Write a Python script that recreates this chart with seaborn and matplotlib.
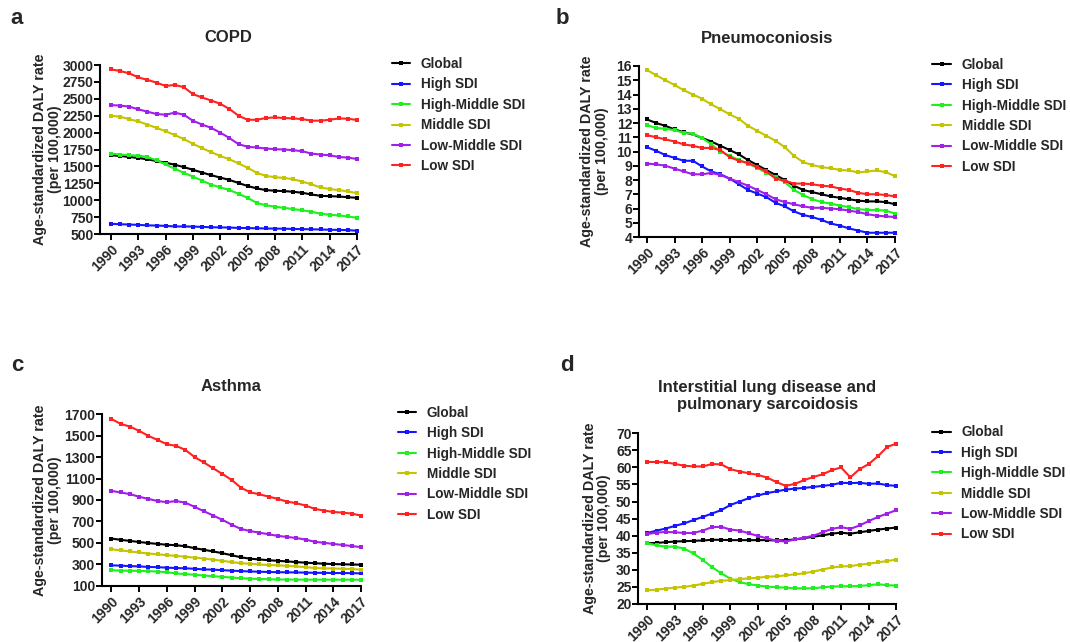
import numpy as np
import pandas as pd
import seaborn as sns
import matplotlib
matplotlib.use("Agg")
import matplotlib.pyplot as plt

years = list(range(1990, 2018))
groups = ["Global", "High SDI", "High-Middle SDI", "Middle SDI", "Low-Middle SDI", "Low SDI"]
colors = ["#000000", "#1515ff", "#1ef01e", "#c4c400", "#a020e8", "#ff2222"]

# COPD
copd_global = [1665, 1655, 1640, 1625, 1605, 1580, 1555, 1525, 1490, 1450, 1410, 1370, 1335, 1300,
               1255, 1210, 1175, 1150, 1140, 1135, 1125, 1110, 1085, 1065, 1060, 1055, 1045, 1035]
copd_high = [650, 645, 640, 635, 628, 625, 620, 612, 612, 610, 605, 600, 598, 595,
             590, 588, 585, 582, 580, 578, 575, 572, 570, 567, 563, 560, 558, 548]
copd_highmid = [1690, 1675, 1665, 1660, 1640, 1590, 1530, 1465, 1405, 1350, 1290, 1230, 1190, 1150,
                1095, 1035, 960, 925, 905, 885, 870, 850, 830, 800, 785, 775, 760, 740]
copd_mid = [2250, 2235, 2200, 2165, 2120, 2070, 2020, 1965, 1905, 1835, 1770, 1710, 1655, 1605,
            1545, 1480, 1405, 1360, 1340, 1330, 1310, 1275, 1235, 1190, 1165, 1150, 1130, 1105]
copd_lowmid = [2407, 2400, 2385, 2345, 2310, 2275, 2265, 2295, 2265, 2175, 2120, 2070, 2000, 1920,
               1830, 1790, 1780, 1765, 1755, 1750, 1740, 1725, 1690, 1675, 1665, 1640, 1630, 1610]
copd_low = [2936, 2912, 2877, 2818, 2780, 2740, 2690, 2706, 2672, 2570, 2520, 2475, 2427, 2350,
            2250, 2190, 2190, 2216, 2225, 2216, 2210, 2200, 2177, 2177, 2190, 2210, 2206, 2187]

# Pneumoconiosis
pneu_global = [12.25, 12.0, 11.8, 11.55, 11.35, 11.2, 10.95, 10.7, 10.4, 10.1, 9.8, 9.4, 9.05, 8.7,
               8.35, 8.0, 7.6, 7.3, 7.15, 7.0, 6.85, 6.75, 6.65, 6.55, 6.5, 6.5, 6.45, 6.3]
pneu_high = [10.3, 10.05, 9.75, 9.55, 9.35, 9.35, 8.95, 8.6, 8.4, 8.1, 7.7, 7.3, 7.05, 6.8,
             6.4, 6.15, 5.8, 5.55, 5.4, 5.2, 4.95, 4.8, 4.6, 4.45, 4.3, 4.3, 4.3, 4.3]
pneu_highmid = [11.85, 11.65, 11.6, 11.5, 11.3, 11.25, 10.95, 10.5, 10.0, 9.7, 9.4, 9.15, 8.85, 8.5,
                8.2, 7.85, 7.3, 6.95, 6.65, 6.45, 6.35, 6.2, 6.1, 5.95, 5.9, 5.9, 5.85, 5.65]
pneu_mid = [15.72, 15.35, 15.0, 14.67, 14.3, 14.0, 13.7, 13.3, 12.97, 12.6, 12.3, 11.8, 11.45, 11.1,
            10.75, 10.3, 9.7, 9.25, 9.05, 8.9, 8.83, 8.7, 8.67, 8.53, 8.6, 8.67, 8.55, 8.27]
pneu_lowmid = [9.15, 9.1, 9.0, 8.8, 8.6, 8.4, 8.4, 8.5, 8.35, 8.1, 7.85, 7.6, 7.3, 7.0,
               6.65, 6.45, 6.3, 6.15, 6.05, 6.05, 6.0, 5.95, 5.85, 5.75, 5.6, 5.5, 5.45, 5.4]
pneu_low = [11.15, 11.0, 10.85, 10.7, 10.5, 10.4, 10.25, 10.25, 10.1, 9.6, 9.35, 9.2, 8.9, 8.6,
            8.1, 7.95, 7.75, 7.75, 7.7, 7.6, 7.55, 7.4, 7.3, 7.1, 7.0, 7.0, 6.95, 6.85]

# Asthma
asth_global = [540, 528, 518, 508, 498, 490, 482, 478, 468, 450, 435, 420, 403, 385,
               365, 352, 345, 338, 332, 327, 320, 315, 310, 305, 302, 300, 298, 296]
asth_high = [290, 287, 283, 280, 275, 273, 268, 265, 262, 258, 252, 250, 245, 240,
             236, 233, 230, 228, 226, 225, 224, 222, 220, 220, 218, 218, 217, 215]
asth_highmid = [245, 240, 240, 238, 236, 232, 225, 215, 208, 202, 195, 188, 183, 176,
                170, 166, 163, 160, 158, 157, 157, 156, 156, 156, 156, 156, 156, 155]
asth_mid = [440, 430, 420, 410, 400, 393, 385, 378, 370, 362, 353, 343, 332, 320,
            310, 305, 298, 293, 290, 285, 280, 273, 265, 262, 260, 258, 255, 250]
asth_lowmid = [985, 970, 955, 930, 910, 890, 880, 890, 875, 835, 795, 755, 715, 670,
               630, 610, 595, 580, 565, 555, 545, 530, 510, 500, 490, 480, 470, 460]
asth_low = [1656, 1610, 1585, 1545, 1498, 1460, 1420, 1405, 1367, 1300, 1250, 1196, 1143, 1087,
            1015, 972, 953, 932, 910, 885, 870, 848, 817, 801, 788, 782, 773, 754]

# Interstitial lung disease and pulmonary sarcoidosis
ild_global = [37.8, 37.9, 38.1, 38.3, 38.4, 38.5, 38.6, 38.8, 38.8, 38.7, 38.7, 38.7, 38.7, 38.7,
              38.6, 38.7, 38.9, 39.3, 39.7, 40.1, 40.6, 40.9, 40.6, 41.0, 41.4, 41.8, 42.1, 42.4]
ild_high = [40.8, 41.5, 42.1, 42.9, 43.6, 44.6, 45.5, 46.5, 47.5, 49.0, 50.0, 51.0, 51.8, 52.5,
            53.0, 53.5, 53.8, 54.0, 54.3, 54.6, 54.9, 55.5, 55.4, 55.5, 55.2, 55.3, 54.8, 54.6]
ild_highmid = [37.8, 37.2, 36.8, 36.8, 36.2, 34.8, 32.9, 30.8, 29.0, 27.4, 26.4, 25.8, 25.4, 25.1,
               24.9, 24.8, 24.6, 24.6, 24.6, 24.9, 25.1, 25.2, 25.2, 25.3, 25.5, 25.8, 25.5, 25.4]
ild_mid = [24.0, 24.2, 24.5, 24.8, 25.0, 25.4, 25.9, 26.4, 26.8, 27.0, 27.3, 27.5, 27.7, 28.0,
           28.1, 28.4, 28.7, 29.0, 29.5, 30.1, 30.7, 31.0, 31.1, 31.5, 31.8, 32.2, 32.6, 33.0]
ild_lowmid = [40.5, 40.9, 41.1, 41.0, 40.8, 40.8, 41.5, 42.5, 42.6, 41.8, 41.5, 40.7, 39.9, 39.2,
              38.5, 38.3, 38.9, 39.4, 40.0, 41.0, 42.0, 42.5, 42.0, 43.0, 44.3, 45.5, 46.5, 47.5]
ild_low = [61.6, 61.6, 61.5, 61.0, 60.5, 60.3, 60.3, 61.0, 60.9, 59.5, 58.8, 58.3, 57.8, 57.0,
           55.7, 54.6, 55.2, 56.3, 57.2, 58.0, 59.2, 60.0, 57.1, 59.5, 61.0, 63.3, 66.0, 67.0]

# (letter, title, series, yticks, axes rect, xmin, ylabel x, title y, legend anchor, letter xy)
panels = [
    ("a", "COPD", [copd_global, copd_high, copd_highmid, copd_mid, copd_lowmid, copd_low],
     np.arange(500, 3001, 250), [0.0939, 0.6355, 0.2397, 0.2632], 1988.85, -0.151, 1.16,
     (1.135, 1.047), (0.0093, 0.9626)),
    ("b", "Pneumoconiosis", [pneu_global, pneu_high, pneu_highmid, pneu_mid, pneu_lowmid, pneu_low],
     np.arange(4, 17, 1), [0.5972, 0.6308, 0.2393, 0.2664], 1989.13, -0.117, 1.162,
     (1.146, 1.048), (0.5196, 0.9626)),
    ("c", "Asthma", [asth_global, asth_high, asth_highmid, asth_mid, asth_lowmid, asth_low],
     np.arange(100, 1701, 200), [0.0953, 0.0877, 0.2421, 0.267], 1988.97, -0.156, 1.161,
     (1.141, 1.05), (0.0105, 0.4221)),
    ("d", "Interstitial lung disease and\npulmonary sarcoidosis",
     [ild_global, ild_high, ild_highmid, ild_mid, ild_lowmid, ild_low],
     np.arange(20, 71, 5), [0.5967, 0.0592, 0.2411, 0.2659], 1989.03, -0.105, 1.219,
     (1.139, 1.046), (0.5234, 0.4226)),
]

sns.set_style("ticks")
plt.rcParams['font.family'] = ['Liberation Sans', 'DejaVu Sans']
plt.rcParams['font.weight'] = 'bold'
plt.rcParams['axes.labelweight'] = 'bold'
plt.rcParams['axes.titleweight'] = 'bold'

fig = plt.figure(figsize=(10.7, 6.42), dpi=100)

for letter, title, series, yt, pos, xmin, ylx, ty, leg_xy, let_xy in panels:
    ax = fig.add_axes(pos)
    rows = []
    for g, vals in zip(groups, series):
        for yr, v in zip(years, vals):
            rows.append((yr, v, g))
    df = pd.DataFrame(rows, columns=["year", "value", "group"])
    sns.lineplot(data=df, x="year", y="value", hue="group", hue_order=groups,
                 palette=colors, marker="s", markersize=3, markeredgewidth=0,
                 linewidth=1.5, ax=ax, clip_on=False)
    ax.set_xlim(xmin, 2017)
    ax.set_ylim(yt[0], yt[-1])
    ax.set_yticks(yt)
    ax.set_yticklabels([str(t) for t in yt], fontsize=10, fontweight='bold')
    ax.set_xticks(range(1990, 2018, 3))
    ax.set_xticklabels([str(t) for t in range(1990, 2018, 3)], rotation=45, ha='right',
                       rotation_mode='anchor', fontsize=10, fontweight='bold')
    ax.set_xlabel("")
    ax.set_ylabel("Age-standardized DALY rate\n(per 100,000)", fontsize=10.3, fontweight='bold',
                  linespacing=1.05)
    ax.yaxis.set_label_coords(ylx, 0.5)
    ax.set_title(title, fontsize=12, fontweight='bold', y=ty, va='center', pad=0,
                 linespacing=1.15)
    sns.despine(ax=ax)
    for s in ["left", "bottom"]:
        ax.spines[s].set_linewidth(1.5)
        ax.spines[s].set_color("black")
    ax.tick_params(axis='y', length=4, width=1.4, color='black', pad=1)
    ax.tick_params(axis='x', length=4, width=1.4, color='black', pad=2)
    handles, labels = ax.get_legend_handles_labels()
    ax.legend(handles, labels, loc='upper left', bbox_to_anchor=leg_xy, frameon=False,
              borderaxespad=0, borderpad=0, handlelength=1.35, handletextpad=0.79,
              labelspacing=0.47, prop={'size': 9.8, 'weight': 'bold'})
    fig.text(let_xy[0], let_xy[1], letter, fontsize=16, fontweight='bold', va='baseline')

fig.savefig("out.png", dpi=100)
